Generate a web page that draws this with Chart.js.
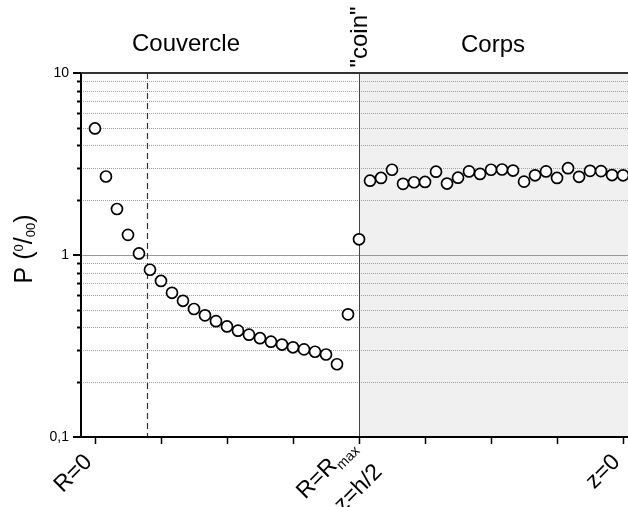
<!DOCTYPE html>
<html>
<head>
<meta charset="utf-8">
<script src="https://cdn.jsdelivr.net/npm/chart.js@4.4.0/dist/chart.umd.min.js"></script>
<style>
    html, body { margin: 0; padding: 0; background: #fff; }
    #wrap { width: 628px; height: 507px; }
</style>
</head>
<body>
<div id="wrap"><canvas id="chart"></canvas></div>
<script>
// values (per mille)
const couvercleP = [4.96, 2.70, 1.79, 1.29, 1.02, 0.83, 0.72, 0.62, 0.56, 0.505,
    0.466, 0.433, 0.405, 0.384, 0.365, 0.349, 0.334, 0.322, 0.311, 0.303,
    0.294, 0.284, 0.251, 0.472];
const coinP = [1.22];
const corpsP = [2.56, 2.65, 2.94, 2.46, 2.51, 2.52, 2.87, 2.47, 2.66, 2.88,
    2.79, 2.94, 2.95, 2.91, 2.53, 2.74, 2.88, 2.65, 3.00, 2.69,
    2.90, 2.89, 2.75, 2.74];

const xTicks = [0, 6, 12, 18, 24, 30, 36, 42, 48];
const xLabelAt = [0, 24, 48];
const xLabelLines = [['R=0'], ['R=R_max', 'z=h/2'], ['z=0']];
const yMajor = [0.1, 1, 10];
const yMajorLabels = ['0,1', '1', '10'];
const yMinor = [0.2, 0.3, 0.4, 0.5, 0.6, 0.7, 0.8, 0.9, 2, 3, 4, 5, 6, 7, 8, 9];
const sections = ['Couvercle', 'Corps'];
const dashedAt = 4.7;
const coinAt = 24;

const FONT = '"Liberation Sans", Arial, sans-serif';

function toPoints(values, start) {
    return values.map((v, i) => ({ x: start + i, y: v }));
}

// draws text runs like [{t, small, dy}] starting at x (left aligned)
function drawRuns(ctx, runs, x, y, big, small) {
    runs.forEach(r => {
        ctx.font = (r.small ? small : big) + 'px ' + FONT;
        ctx.fillText(r.t, x, y + (r.dy || 0));
        x += ctx.measureText(r.t).width;
    });
}
function runsWidth(ctx, runs, big, small) {
    let w = 0;
    runs.forEach(r => {
        ctx.font = (r.small ? small : big) + 'px ' + FONT;
        w += ctx.measureText(r.t).width;
    });
    return w;
}
function parseSub(s) {
    const parts = s.split('_');
    const runs = [{ t: parts[0] }];
    if (parts[1]) runs.push({ t: parts[1], small: true, dy: 5 });
    return runs;
}

const decor = {
    id: 'decor',
    beforeDatasetsDraw(chart) {
        const { ctx, chartArea: a, scales: { x, y } } = chart;
        const cx = x.getPixelForValue(coinAt);
        ctx.save();
        ctx.fillStyle = '#f0f0f0';
        ctx.fillRect(cx, a.top, a.right - cx, a.bottom - a.top);

        ctx.strokeStyle = '#a0a0a0';
        ctx.lineWidth = 1;
        ctx.setLineDash([1, 1]);
        yMinor.forEach(v => {
            const py = Math.round(y.getPixelForValue(v)) + 0.5;
            ctx.beginPath(); ctx.moveTo(a.left, py); ctx.lineTo(a.right, py); ctx.stroke();
        });
        ctx.setLineDash([]);
        ctx.strokeStyle = '#999';
        const p1 = Math.round(y.getPixelForValue(1)) + 0.5;
        ctx.beginPath(); ctx.moveTo(a.left, p1); ctx.lineTo(a.right, p1); ctx.stroke();

        ctx.strokeStyle = '#444';
        ctx.beginPath(); ctx.moveTo(Math.round(cx) + 0.5, a.top); ctx.lineTo(Math.round(cx) + 0.5, a.bottom); ctx.stroke();

        const dx = Math.round(x.getPixelForValue(dashedAt)) + 0.5;
        ctx.strokeStyle = '#333';
        ctx.lineWidth = 1.2;
        ctx.setLineDash([6, 4]);
        ctx.beginPath(); ctx.moveTo(dx, a.top); ctx.lineTo(dx, a.bottom); ctx.stroke();
        ctx.restore();
    },
    afterDatasetsDraw(chart) {
        const { ctx, chartArea: a, scales: { x, y } } = chart;
        ctx.save();
        ctx.strokeStyle = '#000';
        ctx.lineWidth = 2;
        // axes and top frame
        ctx.beginPath();
        ctx.moveTo(a.left, a.top); ctx.lineTo(a.left, a.bottom + 1);
        ctx.moveTo(a.left - 1, a.bottom); ctx.lineTo(a.right, a.bottom);
        ctx.stroke();
        ctx.strokeStyle = '#333';
        ctx.beginPath(); ctx.moveTo(a.left - 8, a.top); ctx.lineTo(a.right, a.top); ctx.stroke();

        // y ticks
        ctx.strokeStyle = '#000';
        yMajor.forEach(v => {
            const py = y.getPixelForValue(v);
            ctx.beginPath(); ctx.moveTo(a.left - 8, py); ctx.lineTo(a.left, py); ctx.stroke();
        });
        yMinor.forEach(v => {
            const py = Math.round(y.getPixelForValue(v)) + 0.5;
            ctx.beginPath(); ctx.moveTo(a.left - 4, py); ctx.lineTo(a.left, py); ctx.stroke();
        });
        ctx.fillStyle = '#000';
        ctx.font = '14px ' + FONT;
        ctx.textAlign = 'right';
        ctx.textBaseline = 'middle';
        yMajor.forEach((v, i) => ctx.fillText(yMajorLabels[i], a.left - 12, y.getPixelForValue(v)));

        // x ticks
        ctx.lineWidth = 1.5;
        xTicks.forEach(v => {
            const px = Math.round(x.getPixelForValue(v)) + 0.5;
            ctx.beginPath(); ctx.moveTo(px, a.bottom); ctx.lineTo(px, a.bottom + 7); ctx.stroke();
        });

        // x labels, rotated 45 degrees
        ctx.textAlign = 'left';
        ctx.textBaseline = 'alphabetic';
        xLabelAt.forEach((v, i) => {
            const px = x.getPixelForValue(v);
            const lines = xLabelLines[i];
            const offs = lines.length === 1 ? [[-2, 26]] : [[-2, 11], [24, 36]];
            lines.forEach((ln, j) => {
                const runs = parseSub(ln);
                const w = runsWidth(ctx, runs, 23, 14);
                ctx.save();
                ctx.translate(px + offs[j][0], a.bottom + offs[j][1]);
                ctx.rotate(-Math.PI / 4);
                drawRuns(ctx, runs, -w, 0, 23, 14);
                ctx.restore();
            });
        });

        // section titles
        ctx.font = '24px ' + FONT;
        ctx.textAlign = 'center';
        ctx.fillText(sections[0], 186, 51);
        ctx.fillText(sections[1], 493, 52);
        ctx.save();
        ctx.translate(367, 37);
        ctx.rotate(-Math.PI / 2);
        ctx.fillText('"coin"', 0, 0);
        ctx.restore();

        // y axis title P (0/00)
        const title = [{ t: 'P (' }, { t: '0', small: true, dy: -9 }, { t: '/' },
            { t: '00', small: true, dy: 3 }, { t: ')' }];
        const tw = runsWidth(ctx, title, 25, 13);
        ctx.save();
        ctx.translate(32, 249);
        ctx.rotate(-Math.PI / 2);
        ctx.textAlign = 'left';
        drawRuns(ctx, title, -tw / 2, 0, 25, 13);
        ctx.restore();
        ctx.restore();
    }
};

const pointStyle = {
    showLine: false,
    pointRadius: 5.5,
    pointBorderWidth: 1.7,
    pointBorderColor: '#000',
    pointBackgroundColor: '#fff'
};

new Chart(document.getElementById('chart').getContext('2d'), {
    type: 'scatter',
    data: {
        datasets: [
            { label: 'Couvercle', data: toPoints(couvercleP, 0), ...pointStyle },
            { label: 'coin', data: toPoints(coinP, 24), ...pointStyle },
            { label: 'Corps', data: toPoints(corpsP, 25), ...pointStyle }
        ]
    },
    options: {
        responsive: true,
        maintainAspectRatio: false,
        animation: false,
        events: [],
        layout: { autoPadding: false, padding: { left: 81, right: 0, top: 73, bottom: 70 } },
        plugins: { legend: { display: false }, tooltip: { enabled: false } },
        scales: {
            x: { type: 'linear', min: -1.27, max: 48.45, display: false },
            y: { type: 'logarithmic', min: 0.1, max: 10, display: false }
        }
    },
    plugins: [decor]
});
</script>
</body>
</html>
